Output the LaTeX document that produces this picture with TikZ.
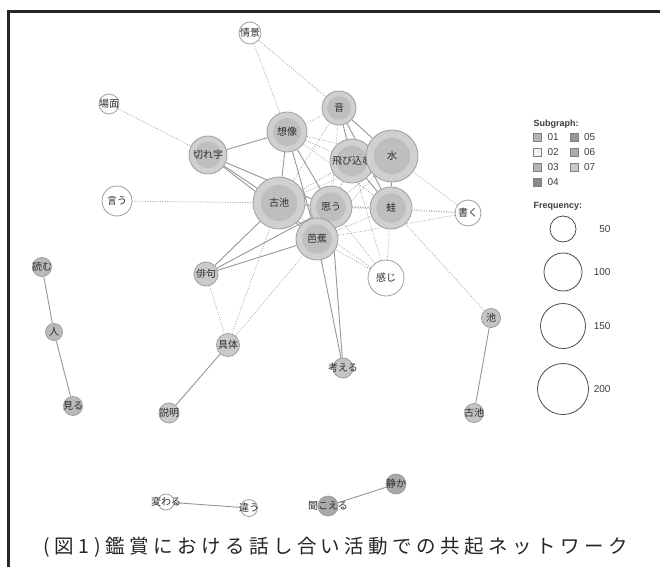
\documentclass[tikz,border=0pt]{standalone}
\usepackage{fontspec}
\setmainfont{Liberation Sans}
\newfontfamily\jp{Noto Sans CJK JP}
\newfontfamily\jpcap[LetterSpace=23]{Noto Sans CJK JP}
\pgfdeclarelayer{edges}
\pgfsetlayers{edges,main}
\definecolor{outerfill}{RGB}{208,208,208}
\definecolor{innerfill}{RGB}{190,190,190}
\definecolor{nodeline}{RGB}{158,158,158}
\definecolor{txt}{RGB}{45,45,45}
\definecolor{solidedge}{RGB}{150,150,150}
\definecolor{dotedge}{RGB}{165,165,165}
\definecolor{gA}{RGB}{202,202,202}
\definecolor{gB}{RGB}{186,186,186}
\definecolor{gC}{RGB}{196,196,196}
\definecolor{gD}{RGB}{168,168,168}
\definecolor{c01}{RGB}{180,180,180}
\definecolor{c02}{RGB}{242,242,242}
\definecolor{c03}{RGB}{180,180,180}
\definecolor{c04}{RGB}{140,140,140}
\definecolor{c05}{RGB}{150,150,150}
\definecolor{c06}{RGB}{170,170,170}
\definecolor{c07}{RGB}{200,200,200}
\definecolor{legtxt}{RGB}{60,60,60}
\newcommand\nd[6]{\node[netnode, fill=#5, minimum size=#4*2pt] (#1) at (#2,#3) {\makebox[0pt]{#6}};}
\newcommand\bnd[5]{\node[netnode, fill=outerfill, minimum size=#4*2pt, path picture={\fill[innerfill] (path picture bounding box.center) circle (#4*0.7pt);}] (#1) at (#2,#3) {\makebox[0pt]{#5}};}
\begin{document}
\begin{tikzpicture}[x=1pt,y=-1pt,
  netnode/.style={circle, draw=nodeline, line width=0.8pt, inner sep=0pt, text=txt, font=\jp\fontsize{10}{10}\selectfont},
  sedge/.style={draw=solidedge, line width=0.9pt},
  dedge/.style={draw=dotedge, line width=0.8pt, dash pattern=on 0.9pt off 1.6pt},
  sqbox/.style={draw=gray, line width=0.5pt, minimum size=8pt, inner sep=0pt},
  legnum/.style={anchor=west, text=legtxt, font=\fontsize{10}{10}\selectfont},
  legtitle/.style={anchor=west, text=legtxt, font=\bfseries\fontsize{9}{9}\selectfont},
  freqc/.style={circle, draw=black!70, line width=0.8pt, inner sep=0pt, fill=white},
  frame/.style={line width=3pt, draw=black!85}
]
\useasboundingbox (0,0) rectangle (660,567);
\draw[frame] (8.7,567) -- (8.7,11.3) -- (660,11.3);

% nodes
\nd{jokei}{250}{33}{11}{white}{情景}
\nd{bamen}{109}{104}{10}{white}{場面}
\nd{iu}{117}{201}{15}{white}{言う}
\bnd{kireji}{208}{155}{19}{切れ字}
\bnd{sozo}{287}{132}{20}{想像}
\bnd{oto}{339}{108}{17}{音}
\bnd{tobikomu}{352}{161}{22}{飛び込む}
\bnd{mizu}{392}{156}{26}{水}
\bnd{kochi}{279}{203}{26}{古池}
\bnd{omou}{331}{207}{21}{思う}
\bnd{kawazu}{391}{208}{21}{蛙}
\bnd{basho}{317}{239}{21}{芭蕉}
\nd{kaku}{468}{213}{13}{white}{書く}
\nd{kanji}{386}{278}{18}{white}{感じ}
\nd{haiku}{206}{274}{12}{gA}{俳句}
\nd{gutai}{228}{345}{11.5}{gA}{具体}
\nd{setsumei}{169}{413}{10}{gA}{説明}
\nd{kangaeru}{343}{368}{10}{gC}{考える}
\nd{ike}{491}{318}{9.5}{gC}{池}
\nd{kochib}{474}{413}{9.5}{gC}{古池}
\nd{yomu}{42}{267}{9.5}{gB}{読む}
\nd{hito}{54}{332}{8.5}{gB}{人}
\nd{miru}{73}{406}{9.5}{gB}{見る}
\nd{kawaru}{166}{502}{8}{white}{変わる}
\nd{chigau}{249}{508}{8.5}{white}{違う}
\nd{kikoeru}{328}{506}{10}{gD}{聞こえる}
\nd{shizuka}{396}{484}{10}{gD}{静か}

\begin{pgfonlayer}{edges}
% solid edges
\foreach \a/\b in {kireji/sozo, kireji/kochi, kireji/omou, kireji/basho, sozo/kochi, sozo/omou, sozo/basho,
  oto/tobikomu, oto/mizu, oto/kawazu, tobikomu/kawazu, mizu/kawazu, kochi/omou, kochi/basho, omou/basho,
  kochi/haiku, omou/haiku, basho/haiku, basho/kangaeru, omou/kangaeru, gutai/setsumei, yomu/hito, hito/miru,
  ike/kochib, kawaru/chigau, kikoeru/shizuka}
  \draw[sedge] (\a) -- (\b);
% dotted edges
\foreach \a/\b in {jokei/sozo, jokei/oto, bamen/kireji, iu/kochi, sozo/oto, sozo/tobikomu, sozo/mizu, sozo/kawazu,
  oto/kochi, oto/omou, kochi/tobikomu, kochi/mizu, kochi/kawazu, omou/tobikomu, omou/mizu, omou/kawazu,
  basho/kawazu, basho/mizu, basho/tobikomu, kanji/basho, kanji/omou, kanji/kochi, kanji/kawazu, kanji/tobikomu,
  kaku/mizu, kaku/kawazu, kaku/omou, kaku/basho, kawazu/ike, haiku/gutai, gutai/kochi, gutai/basho}
  \draw[dedge] (\a) -- (\b);
\end{pgfonlayer}

% legend
\node[legtitle] (subg) at (530,124) {Subgraph:};
\node[sqbox, fill=c01] (s01) at (537.5,137.5) {};
\node[sqbox, fill=c02] (s02) at (537.5,152.5) {};
\node[sqbox, fill=c03] (s03) at (537.5,167.5) {};
\node[sqbox, fill=c04] (s04) at (537.5,182.5) {};
\node[sqbox, fill=c05] (s05) at (574,137.5) {};
\node[sqbox, fill=c06] (s06) at (574,152.5) {};
\node[sqbox, fill=c07] (s07) at (574,167.5) {};
\node[legnum] (l01) at (544,137.5) {01};
\node[legnum] (l02) at (544,152.5) {02};
\node[legnum] (l03) at (544,167.5) {03};
\node[legnum] (l04) at (544,182.5) {04};
\node[legnum] (l05) at (580.5,137.5) {05};
\node[legnum] (l06) at (580.5,152.5) {06};
\node[legnum] (l07) at (580.5,167.5) {07};
\node[legtitle] (freq) at (530,206) {Frequency:};
\node[freqc, minimum size=26pt] (f50) at (563,229) {};
\node[freqc, minimum size=38pt] (f100) at (563,272) {};
\node[freqc, minimum size=45pt] (f150) at (563,326) {};
\node[freqc, minimum size=51pt] (f200) at (563,389) {};
\node[legnum, anchor=east] (t50) at (614,229) {50};
\node[legnum, anchor=east] (t100) at (614,272) {100};
\node[legnum, anchor=east] (t150) at (614,326) {150};
\node[legnum, anchor=east] (t200) at (614,389) {200};

% caption
\node[font=\jpcap\fontsize{19.5}{20}\selectfont, text=black!85, inner sep=0pt] (cap) at (336,547) {(図1)鑑賞における話し合い活動での共起ネットワーク};
\end{tikzpicture}
\end{document}
